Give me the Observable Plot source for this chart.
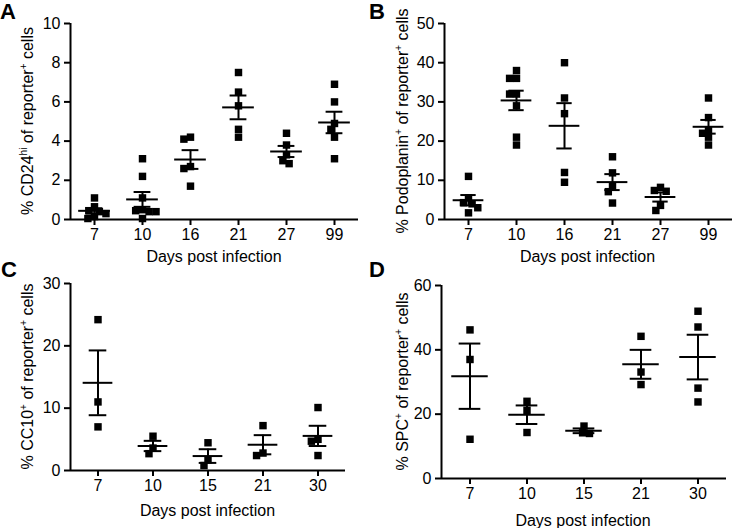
<!DOCTYPE html>
<html><head><meta charset="utf-8">
<script src="https://cdn.jsdelivr.net/npm/d3@7"></script>
<script src="https://cdn.jsdelivr.net/npm/@observablehq/plot@0.6"></script>
<style>
body{margin:0;background:#fff;}
#wrap{position:relative;width:735px;height:528px;overflow:hidden;background:#fff;font-family:"Liberation Sans",Arial,sans-serif;}
.p{position:absolute;}
</style></head><body><div id="wrap"></div>
<script>
// ---- data ----
const daysAB = ["7", "10", "16", "21", "27", "99"];
const daysCD = ["7", "10", "15", "21", "30"];

// Panel A: % CD24hi of reporter+ cells (one array per day)
const cd24Values = [
  [1.1, 0.65, 0.45, 0.4, 0.3, 0.15, 0.05],
  [3.1, 2.2, 1.1, 0.5, 0.45, 0.4, 0.4, 0.05],
  [4.2, 4.1, 2.7, 2.6, 1.7],
  [7.5, 6.5, 5.8, 4.6, 4.2],
  [4.4, 3.8, 3.3, 3.0, 2.85],
  [6.9, 6.0, 4.9, 4.6, 4.2, 3.1]
];
// Panel B: % Podoplanin+ of reporter+ cells
const podoplaninValues = [
  [11.0, 5.5, 4.3, 4.0, 3.0, 1.7],
  [38, 36, 36, 32, 32, 29, 21, 19],
  [40, 31, 27, 12, 9.5],
  [16, 11.9, 8.5, 7.1, 4.2],
  [8.2, 7.4, 7.2, 3.6, 2.3],
  [31, 26, 22.9, 22, 21, 19]
];
// Panel C: % CC10+ of reporter+ cells
const cc10Values = [
  [24.2, 11.0, 7.0],
  [5.5, 3.6, 2.7],
  [4.45, 1.7, 0.8],
  [7.2, 2.8, 2.4],
  [10.1, 5.0, 4.7, 2.4]
];
// Panel D: % SPC+ of reporter+ cells
const spcValues = [
  [46.2, 37, 12.2],
  [24, 21.2, 14.3],
  [16.3, 14.2, 14.0],
  [44.2, 33.1, 29.2],
  [52, 47.1, 28.1, 23.8]
];

const ticksA = [0, 2, 4, 6, 8, 10];
const ticksB = [0, 10, 20, 30, 40, 50];
const ticksC = [0, 10, 20, 30];
const ticksD = [0, 20, 40, 60];
const xTitle = "Days post infection";

// ---- helpers ----
function toRows(days, groups) {
  return days.flatMap((d, i) => groups[i].map(v => ({day: d, v})));
}
function toStats(days, groups) {
  return days.map((d, i) => {
    const g = groups[i];
    const m = d3.mean(g);
    const se = d3.deviation(g) / Math.sqrt(g.length);
    return {day: d, mean: m, lo: m - se, hi: m + se};
  });
}

const FONT = '"Liberation Sans", Arial, Helvetica, sans-serif';

function panel(cfg) {
  const rows = toRows(cfg.days, cfg.groups);
  const st = toStats(cfg.days, cfg.groups);
  const [mt, mr, mb, ml] = cfg.margin;
  const yMax = cfg.yTicks[cfg.yTicks.length - 1];
  const plot = Plot.plot({
    width: cfg.width, height: cfg.height,
    marginTop: mt, marginRight: mr, marginBottom: mb, marginLeft: ml,
    style: {fontFamily: FONT, fontSize: "16px", color: "black", background: "transparent", overflow: "visible", maxWidth: "none"},
    fx: {domain: cfg.days, padding: 0},
    x: {domain: [-1, 1], axis: null},
    y: {domain: [0, yMax]},
    marks: [
      Plot.ruleY([0], {stroke: "black", strokeWidth: 2}),
      Plot.ruleX([-1], {fx: () => cfg.days[0], y1: 0, y2: yMax, stroke: "black", strokeWidth: 2}),
      Plot.axisY({ticks: cfg.yTicks, tickSize: 6, tickPadding: 4, strokeWidth: 2, fontSize: 16, label: null, tickFormat: d => String(d)}),
      Plot.axisFx({anchor: "bottom", tickSize: 6, tickPadding: 3, strokeWidth: 2, fontSize: 16, label: null}),
      Plot.dot(rows, Plot.dodgeX({anchor: "middle", padding: -1.5}, {fx: "day", y: "v", r: 4.2, symbol: "square", fill: "black", stroke: "none"})),
      Plot.ruleY(st, {fx: "day", y: "mean", x1: -cfg.meanHalf, x2: cfg.meanHalf, stroke: "black", strokeWidth: 2}),
      Plot.ruleY(st, {fx: "day", y: "lo", x1: -cfg.whHalf, x2: cfg.whHalf, stroke: "black", strokeWidth: 2}),
      Plot.ruleY(st, {fx: "day", y: "hi", x1: -cfg.whHalf, x2: cfg.whHalf, stroke: "black", strokeWidth: 2}),
      Plot.ruleX(st, {fx: "day", x: 0, y1: "lo", y2: "hi", stroke: "black", strokeWidth: 2})
    ]
  });
  const svg = d3.select(plot);
  const top = mt, bottom = cfg.height - mb, left = ml, right = cfg.width - mr;
  // y title with superscripts
  const t = svg.append("text")
    .attr("transform", `translate(${cfg.ytx},${(top + bottom) / 2}) rotate(-90)`)
    .attr("text-anchor", "middle")
    .attr("font-family", FONT).attr("font-size", 16).attr("fill", "black")
    .style("white-space", "pre");
  let raised = false;
  cfg.yLabel.forEach(([s, sup]) => {
    const ts = t.append("tspan").text(s);
    if (sup && !raised) { ts.attr("dy", -6).attr("font-size", 10); raised = true; }
    else if (!sup && raised) { ts.attr("dy", 6); raised = false; }
  });
  // x title
  svg.append("text")
    .attr("x", (left + right) / 2).attr("y", bottom + cfg.xtDy).attr("dy", "0.35em")
    .attr("text-anchor", "middle").attr("font-family", FONT).attr("font-size", 16).attr("fill", "black")
    .text(xTitle);
  // panel letter
  svg.append("text")
    .attr("x", cfg.letterX).attr("y", cfg.letterY)
    .attr("text-anchor", "start")
    .attr("font-family", FONT).attr("font-size", 22).attr("font-weight", "bold").attr("fill", "black")
    .text(cfg.letter);
  const div = document.createElement("div");
  div.className = "p";
  div.style.left = cfg.left + "px";
  div.style.top = cfg.top + "px";
  div.style.width = cfg.width + "px";
  div.style.height = cfg.height + "px";
  div.appendChild(plot);
  document.getElementById("wrap").appendChild(div);
}

panel({
  letter: "A", letterX: 0, letterY: 19,
  left: 0, top: 0, width: 368, height: 262, margin: [23, 8, 43, 68],
  days: daysAB, groups: cd24Values, yTicks: ticksA,
  meanHalf: 0.66, whHalf: 0.35, ytx: 33, xtDy: 37,
  yLabel: [["% CD24"], ["hi", true], [" of reporter"], ["+", true], [" cells"]]
});
panel({
  letter: "B", letterX: 1, letterY: 19,
  left: 368, top: 0, width: 367, height: 262, margin: [23, 1, 43, 73],
  days: daysAB, groups: podoplaninValues, yTicks: ticksB,
  meanHalf: 0.64, whHalf: 0.32, ytx: 40, xtDy: 37,
  yLabel: [["% Podoplanin"], ["+", true], [" of reporter"], ["+", true], [" cells"]]
});
panel({
  letter: "C", letterX: 1, letterY: 15,
  left: 0, top: 262, width: 368, height: 266, margin: [21, 21, 58, 68],
  days: daysCD, groups: cc10Values, yTicks: ticksC,
  meanHalf: 0.54, whHalf: 0.32, ytx: 33, xtDy: 40,
  yLabel: [["% CC10"], ["+", true], [" of reporter"], ["+", true], [" cells"]]
});
panel({
  letter: "D", letterX: 1, letterY: 15,
  left: 368, top: 262, width: 367, height: 266, margin: [23, 8, 50, 71],
  days: daysCD, groups: spcValues, yTicks: ticksD,
  meanHalf: 0.64, whHalf: 0.38, ytx: 40, xtDy: 42,
  yLabel: [["% SPC"], ["+", true], [" of reporter"], ["+", true], [" cells"]]
});
</script></body></html>
